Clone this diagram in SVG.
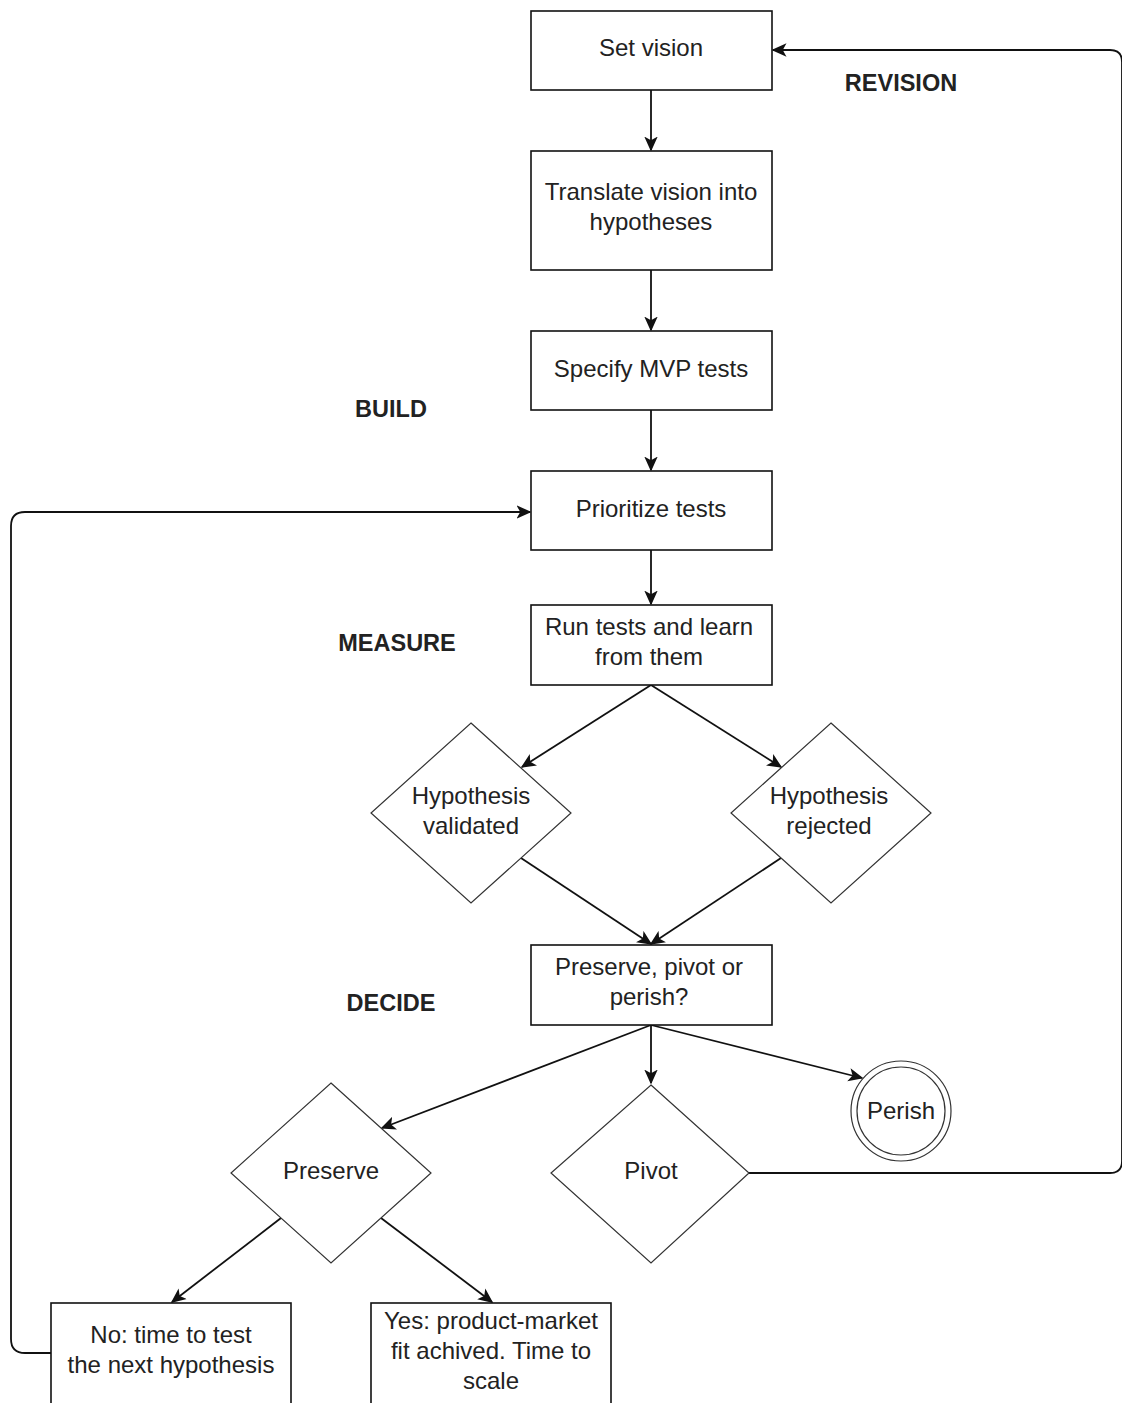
<svg xmlns="http://www.w3.org/2000/svg" width="1122" height="1403" viewBox="0 0 1122 1403">
<defs>
<style>
.box{fill:#fff;stroke:#111;stroke-width:1.6}
.shape{fill:#fff;stroke:#333;stroke-width:1.2}
.t{font-family:"Liberation Sans",Arial,sans-serif;font-size:24px;fill:#222;text-anchor:middle;dominant-baseline:central}
.b{font-family:"Liberation Sans",Arial,sans-serif;font-size:23.5px;font-weight:bold;fill:#222;text-anchor:middle;dominant-baseline:central}
.c{fill:none;stroke:#111;stroke-width:1.8}
</style>
<marker id="arr" viewBox="0 0 10 10" refX="9" refY="5" markerWidth="15" markerHeight="15" markerUnits="userSpaceOnUse" orient="auto">
<path d="M0,0.5 L10,5 L0,9.5 L2.5,5 Z" fill="#111"/>
</marker>
</defs>
<rect width="1122" height="1403" fill="#fff"/>
<g id="connectors">
<path class="c" d="M651,90 V150" marker-end="url(#arr)"/>
<path class="c" d="M651,270 V330" marker-end="url(#arr)"/>
<path class="c" d="M651,410 V470" marker-end="url(#arr)"/>
<path class="c" d="M651,550 V604" marker-end="url(#arr)"/>
<path class="c" d="M651,685 L522,767" marker-end="url(#arr)"/>
<path class="c" d="M651,685 L781,767" marker-end="url(#arr)"/>
<path class="c" d="M521,858 L651,944" marker-end="url(#arr)"/>
<path class="c" d="M781,858 L651,944" marker-end="url(#arr)"/>
<path class="c" d="M651,1025 V1083" marker-end="url(#arr)"/>
<path class="c" d="M651,1025 L382,1128" marker-end="url(#arr)"/>
<path class="c" d="M651,1025 L862,1078" marker-end="url(#arr)"/>
<path class="c" d="M281,1218 L172,1302" marker-end="url(#arr)"/>
<path class="c" d="M381,1218 L492,1302" marker-end="url(#arr)"/>
<path class="c" d="M749,1173 H1110 Q1122,1173 1122,1161 V62 Q1122,50 1110,50 H773" marker-end="url(#arr)"/>
<path class="c" d="M51,1353 H25 Q11,1353 11,1339 V526 Q11,512 25,512 H530" marker-end="url(#arr)"/>
</g>
<g id="set-vision"><rect class="box" x="531" y="11" width="241" height="79"/><text class="t" x="651" y="47">Set vision</text></g>
<g id="translate"><rect class="box" x="531" y="151" width="241" height="119"/><text class="t" x="651" y="191">Translate vision into</text><text class="t" x="651" y="221">hypotheses</text></g>
<g id="specify"><rect class="box" x="531" y="331" width="241" height="79"/><text class="t" x="651" y="368">Specify MVP tests</text></g>
<g id="prioritize"><rect class="box" x="531" y="471" width="241" height="79"/><text class="t" x="651" y="508">Prioritize tests</text></g>
<g id="run"><rect class="box" x="531" y="605" width="241" height="80"/><text class="t" x="649" y="626">Run tests and learn</text><text class="t" x="649" y="656">from them</text></g>
<g id="validated"><polygon class="shape" points="471,723 571,813 471,903 371,813"/><text class="t" x="471" y="795">Hypothesis</text><text class="t" x="471" y="825">validated</text></g>
<g id="rejected"><polygon class="shape" points="831,723 931,813 831,903 731,813"/><text class="t" x="829" y="795">Hypothesis</text><text class="t" x="829" y="825">rejected</text></g>
<g id="decide-box"><rect class="box" x="531" y="945" width="241" height="80"/><text class="t" x="649" y="966">Preserve, pivot or</text><text class="t" x="649" y="996">perish?</text></g>
<g id="preserve"><polygon class="shape" points="331,1083 431,1173 331,1263 231,1173"/><text class="t" x="331" y="1170">Preserve</text></g>
<g id="pivot"><polygon class="shape" points="651,1085 749,1173 651,1263 551,1173"/><text class="t" x="651" y="1170">Pivot</text></g>
<g id="perish"><circle class="shape" cx="901" cy="1111" r="50"/><circle class="shape" cx="901" cy="1111" r="44"/><text class="t" x="901" y="1110">Perish</text></g>
<g id="no"><rect class="box" x="51" y="1303" width="240" height="110"/><text class="t" x="171" y="1334">No: time to test</text><text class="t" x="171" y="1364">the next hypothesis</text></g>
<g id="yes"><rect class="box" x="371" y="1303" width="240" height="110"/><text class="t" x="491" y="1320">Yes: product-market</text><text class="t" x="491" y="1350">fit achived. Time to</text><text class="t" x="491" y="1380">scale</text></g>
<g id="labels">
<text class="b" x="901" y="83">REVISION</text>
<text class="b" x="391" y="409">BUILD</text>
<text class="b" x="397" y="643">MEASURE</text>
<text class="b" x="391" y="1003">DECIDE</text>
</g>
</svg>
